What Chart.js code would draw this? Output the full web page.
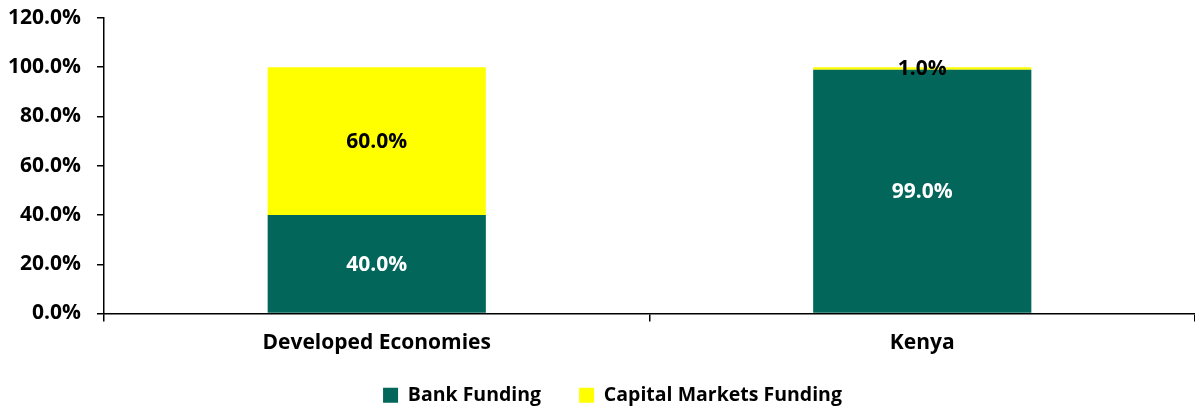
<!DOCTYPE html>
<html>
<head>
<meta charset="utf-8">
<script src="https://cdn.jsdelivr.net/npm/chart.js@4.4.1/dist/chart.umd.min.js"></script>
<style>
  html, body { margin: 0; padding: 0; background: #fff; }
  #wrap { width: 1195px; height: 410px; }
</style>
</head>
<body>
<div id="wrap"><canvas id="chart" width="1195" height="410"></canvas></div>
<script>
const categories = ['Developed Economies', 'Kenya'];
const bankFunding = [40.0, 99.0];
const capitalMarketsFunding = [60.0, 1.0];
const yTicks = [0, 20, 40, 60, 80, 100, 120];

const FONT = '"Open Sans", sans-serif';
const GREEN = '#03665A';
const YELLOW = '#FFFF00';

// value labels in the middle of each stacked segment
const segmentLabels = {
  id: 'segmentLabels',
  afterDatasetsDraw(chart) {
    const { ctx } = chart;
    ctx.save();
    ctx.font = 'bold 21px ' + FONT;
    ctx.textAlign = 'center';
    ctx.textBaseline = 'middle';
    chart.data.datasets.forEach((ds, i) => {
      const meta = chart.getDatasetMeta(i);
      meta.data.forEach((bar, j) => {
        const v = ds.data[j];
        const p = bar.getProps(['x', 'y', 'base'], true);
        ctx.fillStyle = ds.labelColor;
        ctx.fillText(v.toFixed(1) + '%', p.x, (p.y + p.base) / 2 + 1);
      });
    });
    ctx.restore();
  }
};

// nudge the legend up and a bit right, like the original
const legendShift = {
  id: 'legendShift',
  afterLayout(chart) {
    const lg = chart.legend;
    if (!lg) return;
    lg.top -= 16;
    lg.bottom -= 16;
    lg.left += 15;
    lg.right += 15;
  }
};

new Chart(document.getElementById('chart'), {
  type: 'bar',
  data: {
    labels: categories,
    datasets: [
      { label: 'Bank Funding', data: bankFunding, backgroundColor: GREEN, labelColor: '#fff' },
      { label: 'Capital Markets Funding', data: capitalMarketsFunding, backgroundColor: YELLOW, labelColor: '#000' }
    ]
  },
  options: {
    responsive: false,
    animation: false,
    layout: { padding: { top: 0, right: 0, left: 0, bottom: -21 } },
    datasets: { bar: { barPercentage: 0.4, categoryPercentage: 1.0 } },
    plugins: {
      tooltip: { enabled: false },
      legend: {
        position: 'bottom',
        labels: {
          color: '#000',
          font: { family: FONT, size: 19.5, weight: 'bold' },
          boxWidth: 15, boxHeight: 15, padding: 38
        }
      }
    },
    scales: {
      x: {
        stacked: true,
        grid: { display: true, drawOnChartArea: false, drawTicks: true, tickLength: 8, color: '#000', lineWidth: 1.5, offset: true },
        border: { color: '#000', width: 1.5 },
        ticks: { color: '#000', font: { family: FONT, size: 21, weight: 'bold' }, padding: 9 },
        afterFit(s) { s.height = 50; }
      },
      y: {
        stacked: true,
        min: 0, max: 120,
        afterBuildTicks(s) { s.ticks = yTicks.map(v => ({ value: v })); },
        grid: { display: true, drawOnChartArea: false, drawTicks: true, tickLength: 7, color: '#000', lineWidth: 1.5 },
        border: { color: '#000', width: 1.5 },
        ticks: {
          color: '#000', padding: 16,
          font: { family: FONT, size: 21, weight: 'bold' },
          callback: v => v.toFixed(1) + '%'
        },
        afterFit(s) { s.width = 104; s.paddingTop = 18; }
      }
    }
  },
  plugins: [segmentLabels, legendShift]
});
</script>
</body>
</html>
